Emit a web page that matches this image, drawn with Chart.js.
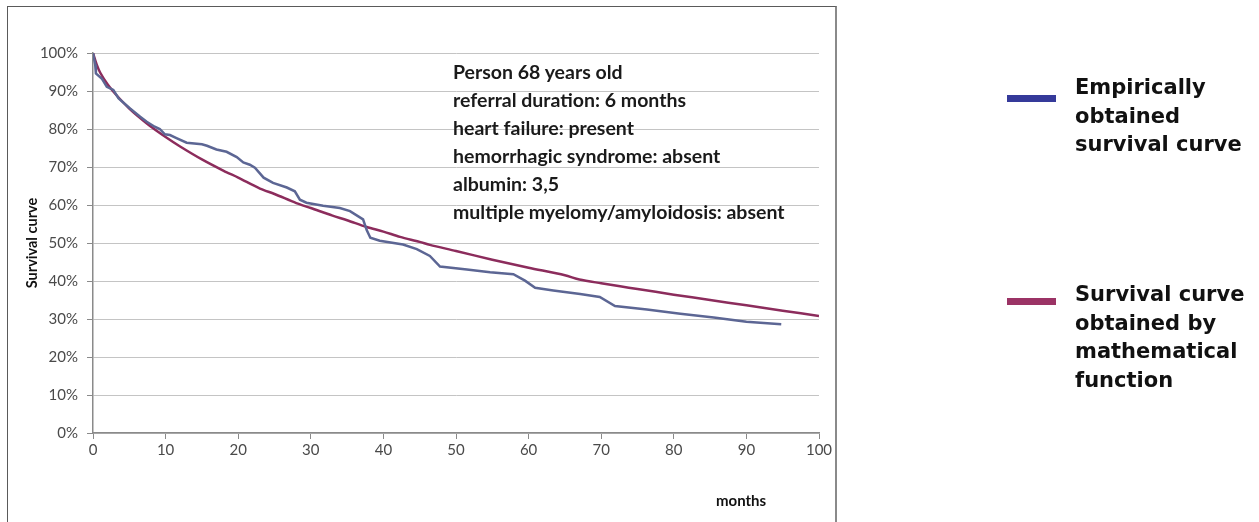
<!DOCTYPE html>
<html>
<head>
<meta charset="utf-8">
<script src="https://cdn.jsdelivr.net/npm/chart.js@4/dist/chart.umd.min.js"></script>
<style>
  html, body { margin: 0; padding: 0; background: #fff; }
  body { width: 1259px; height: 522px; position: relative; overflow: hidden; }
  #frame { position: absolute; left: 7px; top: 6px; width: 827px; height: 530px;
           border: 1px solid #5a5a5a; border-right: 2px solid #8a8a8a; }
  #myChart { position: absolute; left: 0; top: 0; }
  .note { position: absolute; left: 453px; top: 58px; font: bold 19.5px Lato, sans-serif;
          color: #1a1a1a; line-height: 28px; white-space: nowrap; }
  .xtitle { position: absolute; left: 716px; top: 491px; font: bold 15px Lato, sans-serif; color: #111; }
  .legend { position: absolute; left: 1007px; font: bold 21px "DejaVu Sans", sans-serif;
            color: #111; line-height: 28.5px; }
  .legend .swatch { position: absolute; left: 0; width: 49px; height: 7px; }
  .legend .label { position: absolute; left: 68px; white-space: nowrap; }
</style>
</head>
<body>
<div id="frame"></div>
<canvas id="myChart" width="1259" height="522"></canvas>

<div class="note">
  Person 68 years old<br>
  referral duration: 6 months<br>
  heart failure: present<br>
  hemorrhagic syndrome: absent<br>
  albumin: 3,5<br>
  multiple myelomy/amyloidosis: absent
</div>
<div class="xtitle">months</div>

<div class="legend" style="top:95px">
  <div class="swatch" style="background:#353a9a"></div>
  <div class="label" style="top:-22px">Empirically<br>obtained<br>survival curve</div>
</div>
<div class="legend" style="top:298px">
  <div class="swatch" style="background:#9b3365"></div>
  <div class="label" style="top:-18px">Survival curve<br>obtained by<br>mathematical<br>function</div>
</div>

<script>
const empMonths = [0, 0.3, 0.4, 1.2, 1.9, 2.8, 3.5, 5.1, 6.5, 7.4, 8.5, 9.2, 9.9, 10.6, 11.5, 12.9,
  15.0, 15.7, 17.0, 18.4, 19.8, 20.7, 21.6, 22.3, 23.5, 24.8, 26.7, 27.8, 28.5, 29.4, 31.7, 34.0,
  35.4, 37.2, 37.7, 38.2, 39.5, 42.7, 44.6, 46.4, 47.8, 51.5, 54.7, 57.9, 59.5, 60.9, 63.4, 67.1,
  69.8, 71.9, 76.3, 80.9, 85.5, 90.0, 94.8];
const empSurvival = [100, 97, 94.6, 93.3, 91.1, 90.3, 88.1, 85.4, 83.2, 81.9, 80.6, 80.0, 78.6, 78.4, 77.6, 76.4,
  76.0, 75.6, 74.6, 74.0, 72.6, 71.2, 70.6, 69.8, 67.2, 65.8, 64.6, 63.6, 61.4, 60.6, 59.8, 59.2,
  58.4, 56.2, 53.4, 51.4, 50.6, 49.6, 48.4, 46.6, 43.8, 43.0, 42.3, 41.8, 40.1, 38.2, 37.5, 36.6,
  35.8, 33.4, 32.5, 31.4, 30.4, 29.3, 28.6];

// fitted curve
const fitMonths = [0, 0.5, 1, 2, 3, 4, 5, 6, 8, 10, 12, 15, 18, 20, 23, 25, 28, 30, 33, 35, 37.7,
  40, 42.3, 45, 46.4, 50, 55, 60, 65, 67, 70, 72.6, 75, 80, 85, 90, 95, 100];
const fitSurvival = [100, 97, 94.8, 91.8, 89.4, 87.3, 85.4, 83.7, 80.6, 77.9, 75.4, 72, 69, 67.2, 64.3, 62.9,
  60.5, 59.2, 57.2, 56, 54.2, 53, 51.6, 50.3, 49.5, 47.9, 45.6, 43.5, 41.5, 40.4, 39.4, 38.6, 37.9,
  36.4, 35, 33.6, 32.2, 30.8];

const xTicks = [0, 10, 20, 30, 40, 50, 60, 70, 80, 90, 100];
const yTicks = [0, 10, 20, 30, 40, 50, 60, 70, 80, 90, 100];

const toPoints = (xs, ys) => xs.map((x, i) => ({ x: x, y: ys[i] }));

const ctx = document.getElementById('myChart').getContext('2d');
const chart = new Chart(ctx, {
  type: 'line',
  data: {
    datasets: [{
      label: 'Empirically obtained survival curve',
      data: toPoints(empMonths, empSurvival),
      borderColor: '#5c6694',
      borderWidth: 2.5,
      pointRadius: 0,
      tension: 0
    }, {
      label: 'Survival curve obtained by mathematical function',
      data: toPoints(fitMonths, fitSurvival),
      borderColor: '#8c2c5c',
      borderWidth: 2.5,
      pointRadius: 0,
      tension: 0.3
    }]
  },
  options: {
    responsive: false,
    animation: false,
    layout: { padding: { top: 53, right: 440, bottom: 0, left: 0 } },
    plugins: { legend: { display: false }, tooltip: { enabled: false } },
    scales: {
      x: {
        type: 'linear', min: 0, max: 100,
        afterBuildTicks: s => { s.ticks = xTicks.map(v => ({ value: v })); },
        afterFit: s => { s.height = 89; },
        grid: { drawOnChartArea: false, tickLength: 6, tickColor: '#8a8a8a' },
        border: { color: '#8a8a8a', width: 1.5 },
        ticks: { padding: 2, color: '#4a4a4a', font: { family: 'Lato', size: 15 } }
      },
      y: {
        min: 0, max: 100,
        afterBuildTicks: s => { s.ticks = yTicks.map(v => ({ value: v })); },
        afterFit: s => { s.width = 93; },
        grid: { color: '#c4c4c4', tickLength: 6, tickColor: '#8a8a8a' },
        border: { color: '#8a8a8a', width: 1.5 },
        ticks: { padding: 9, color: '#4a4a4a', font: { family: 'Lato', size: 15 },
                 callback: v => v + '%' },
        title: { display: true, text: 'Survival curve', color: '#111',
                 padding: { top: 24, bottom: 0 }, font: { family: 'Lato', size: 14.5, weight: 'bold' } }
      }
    }
  }
});
</script>
</body>
</html>
